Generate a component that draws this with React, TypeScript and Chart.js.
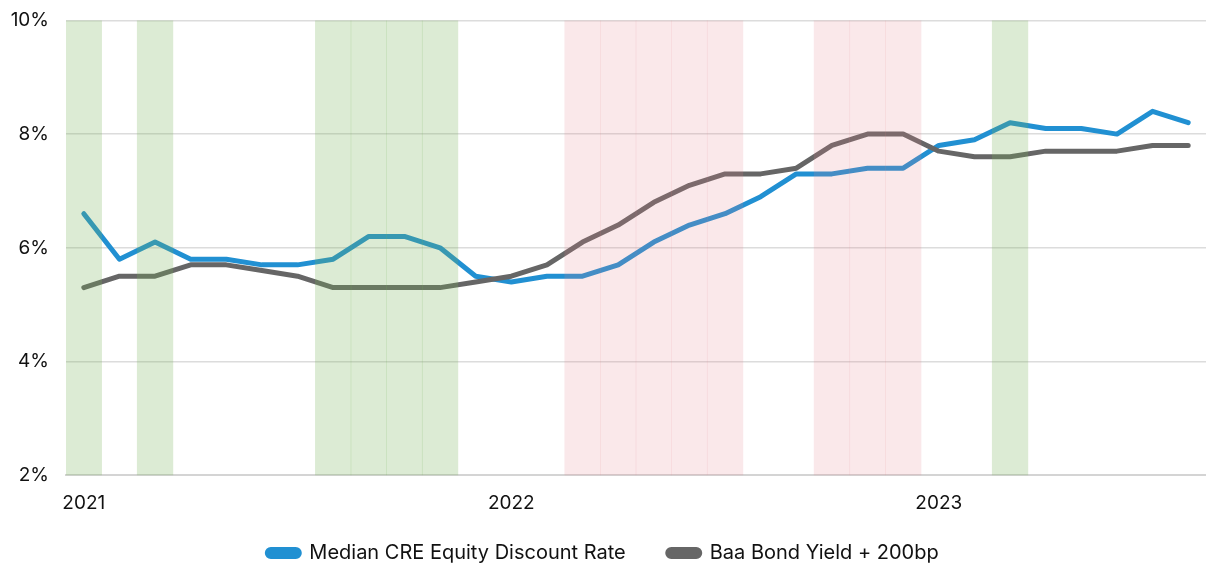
import React, { useEffect, useRef } from "react";
import { Chart, registerables } from "chart.js";

Chart.register(...registerables);

const months = [
  "Jan 2021", "Feb 2021", "Mar 2021", "Apr 2021", "May 2021", "Jun 2021",
  "Jul 2021", "Aug 2021", "Sep 2021", "Oct 2021", "Nov 2021", "Dec 2021",
  "Jan 2022", "Feb 2022", "Mar 2022", "Apr 2022", "May 2022", "Jun 2022",
  "Jul 2022", "Aug 2022", "Sep 2022", "Oct 2022", "Nov 2022", "Dec 2022",
  "Jan 2023", "Feb 2023", "Mar 2023", "Apr 2023", "May 2023", "Jun 2023",
  "Jul 2023", "Aug 2023",
];

const creDiscountRate = [
  6.6, 5.8, 6.1, 5.8, 5.8, 5.7, 5.7, 5.8, 6.2, 6.2, 6.0, 5.5,
  5.4, 5.5, 5.5, 5.7, 6.1, 6.4, 6.6, 6.9, 7.3, 7.3, 7.4, 7.4,
  7.8, 7.9, 8.2, 8.1, 8.1, 8.0, 8.4, 8.2,
];

const baaPlus200 = [
  5.3, 5.5, 5.5, 5.7, 5.7, 5.6, 5.5, 5.3, 5.3, 5.3, 5.3, 5.4,
  5.5, 5.7, 6.1, 6.4, 6.8, 7.1, 7.3, 7.3, 7.4, 7.8, 8.0, 8.0,
  7.7, 7.6, 7.6, 7.7, 7.7, 7.7, 7.8, 7.8,
];

// shaded periods (months)
const greenMonths = ["Jan 2021", "Mar 2021", "Aug 2021", "Sep 2021", "Oct 2021", "Nov 2021", "Mar 2023"];
const redMonths = ["Mar 2022", "Apr 2022", "May 2022", "Jun 2022", "Jul 2022", "Oct 2022", "Nov 2022", "Dec 2022"];

const yTicks = [2, 4, 6, 8, 10];

const LEGEND_SHIFT = 31;

export default function App() {
  const ref = useRef<HTMLCanvasElement | null>(null);

  useEffect(() => {
    document.body.style.margin = "0";
    const ctx = ref.current!;
    const font = "Inter, 'DejaVu Sans', sans-serif";
    const chart = new Chart(ctx, {
      type: "line",
      data: {
        labels: months,
        datasets: [
          {
            type: "line",
            label: "Median CRE Equity Discount Rate",
            data: creDiscountRate,
            borderColor: "#2190d2",
            backgroundColor: "#2190d2",
            borderWidth: 5,
            pointRadius: 0,
            borderCapStyle: "round",
            borderJoinStyle: "round",
            tension: 0,
            order: 2,
          },
          {
            type: "line",
            label: "Baa Bond Yield + 200bp",
            data: baaPlus200,
            borderColor: "#666666",
            backgroundColor: "#666666",
            borderWidth: 5,
            pointRadius: 0,
            borderCapStyle: "round",
            borderJoinStyle: "round",
            tension: 0,
            order: 1,
          },
          {
            type: "bar",
            label: "green",
            data: months.map((m) => (greenMonths.includes(m) ? 10 : null)),
            backgroundColor: "rgba(120,178,90,0.26)",
            barPercentage: 1,
            categoryPercentage: 1,
            grouped: false,
            order: 0,
          } as any,
          {
            type: "bar",
            label: "red",
            data: months.map((m) => (redMonths.includes(m) ? 10 : null)),
            backgroundColor: "rgba(225,130,140,0.18)",
            barPercentage: 1,
            categoryPercentage: 1,
            grouped: false,
            order: 0,
          } as any,
        ],
      },
      options: {
        animation: false,
        responsive: true,
        maintainAspectRatio: false,
        layout: { padding: { top: 0, right: 0, left: 0, bottom: -39 } },
        plugins: {
          tooltip: { enabled: false },
          legend: {
            position: "bottom",
            labels: {
              filter: (item) => item.datasetIndex! < 2,
              sort: (a, b) => a.datasetIndex! - b.datasetIndex!,
              boxWidth: 32,
              boxHeight: 7,
              useBorderRadius: true,
              borderRadius: 3.5,
              padding: 42,
              color: "#111",
              font: { family: font, size: 20 },
            },
          },
        },
        scales: {
          x: {
            offset: true,
            grid: { display: false, drawTicks: false },
            border: { display: true, color: "#d4d4d4", width: 2 },
            ticks: {
              autoSkip: false,
              maxRotation: 0,
              color: "#111",
              padding: 17,
              font: { family: font, size: 19 },
              callback: (val, i) => {
                const l = months[i as number];
                return l.startsWith("Jan") ? l.slice(4) : "";
              },
            },
          },
          y: {
            min: 2,
            max: 10,
            afterFit: (s: any) => {
              s.width = 66;
            },
            afterBuildTicks: (s: any) => {
              s.ticks = yTicks.map((v) => ({ value: v }));
            },
            border: { display: false },
            grid: { color: "#dcdcdc", lineWidth: 1.5, drawTicks: true, tickLength: 8, tickColor: "rgba(0,0,0,0)" },
            ticks: {
              color: "#111",
              padding: 9,
              font: { family: font, size: 19 },
              callback: (v) => `${v}%`,
            },
          },
        },
      },
      plugins: [
        {
          id: "legendShift",
          afterLayout(c: any) {
            const lg = c.legend;
            if (lg) {
              lg.top -= LEGEND_SHIFT;
              lg.bottom -= LEGEND_SHIFT;
            }
          },
        },
      ],
    });
    return () => chart.destroy();
  }, []);

  return (
    <div style={{ position: "relative", width: 1206, height: 565 }}>
      <canvas ref={ref} />
    </div>
  );
}
